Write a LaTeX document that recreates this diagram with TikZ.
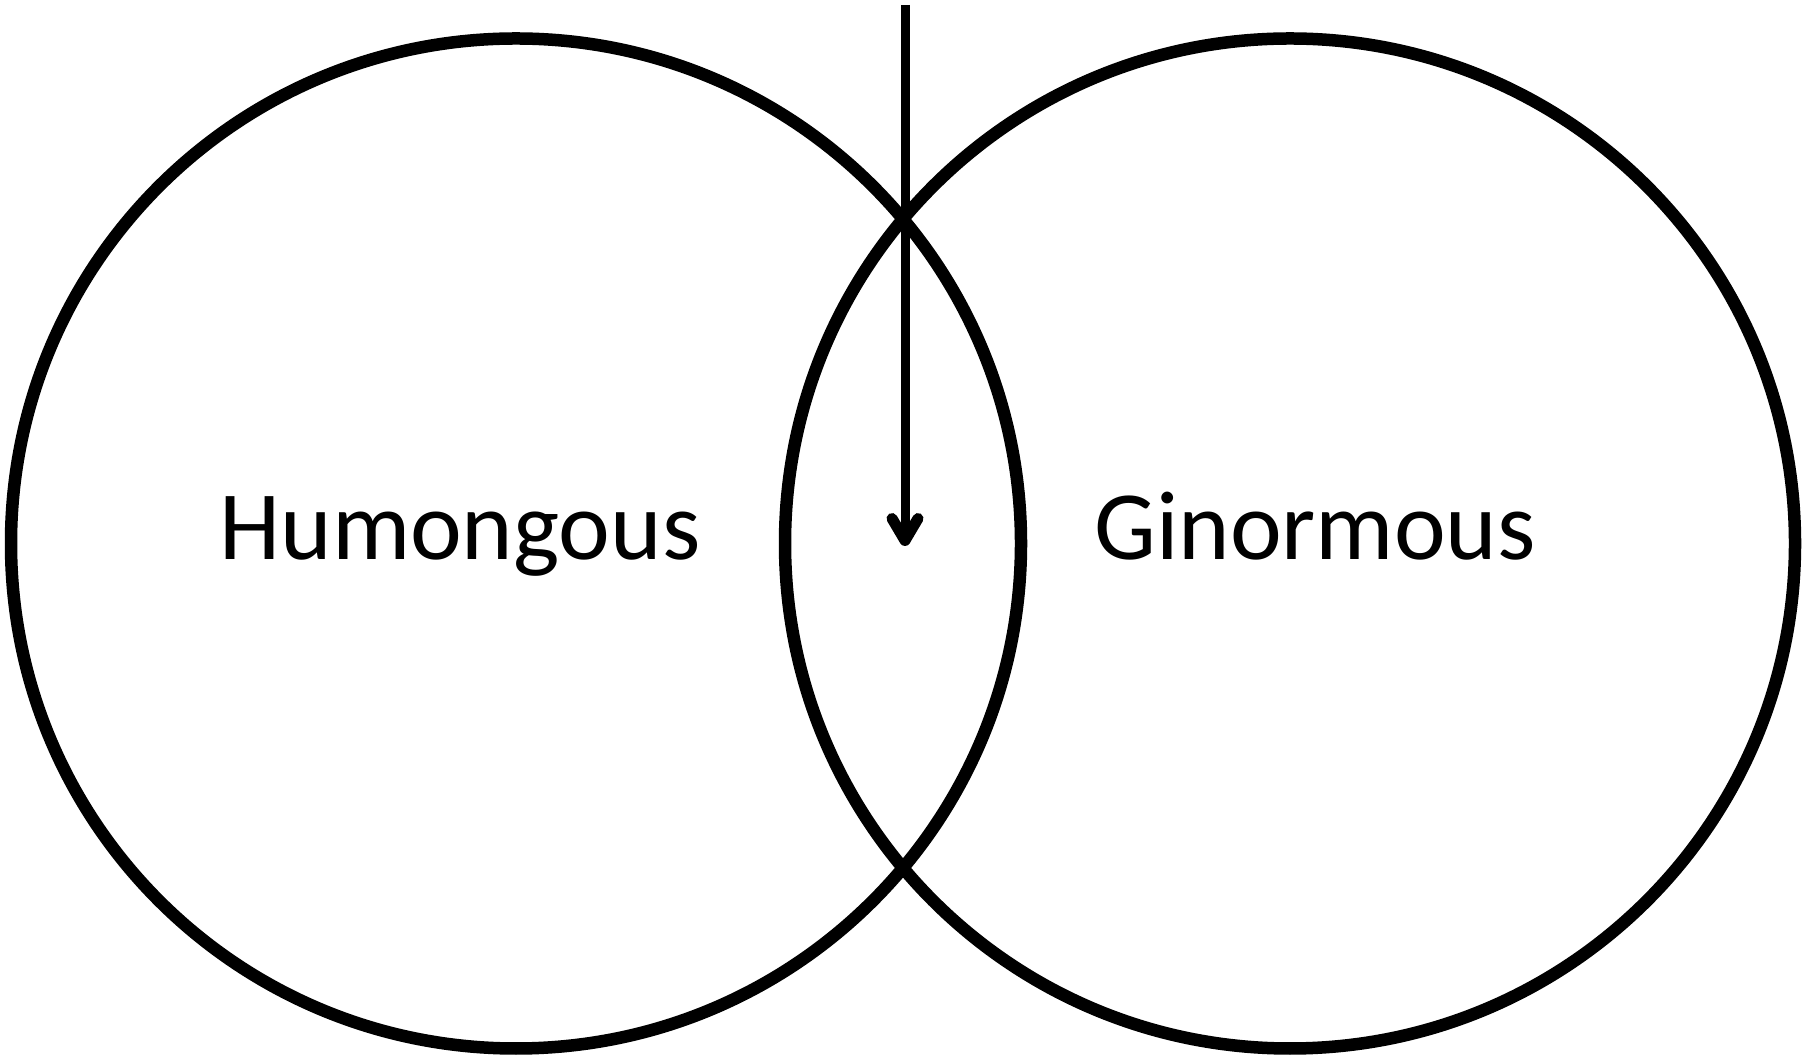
\documentclass[tikz,border=0pt]{standalone}
\usepackage{fontspec}
\setmainfont{Carlito}
\usetikzlibrary{arrows.meta}
\begin{document}
\begin{tikzpicture}[x=1pt,y=1pt,
  ring/.style={draw=black,line width=12.5pt,circle,minimum size=1010pt,inner sep=0pt},
  label/.style={font=\fontsize{98}{110}\selectfont,inner sep=0pt,anchor=base},
  pointer/.style={line width=9pt,-{Straight Barb[length=22pt,width=26pt,line width=11pt 0,round]}}]
\useasboundingbox (0,0) rectangle (1803,1054);
\node[ring] (left) at (516,510.5) {};
\node[ring] (right) at (1290,510.5) {};
\node[label] (hum) at (460,494) {Humongous};
\node[label] (gin) at (1315,494) {Ginormous};
\coordinate (top) at (905,1049);
\coordinate (tip) at (905,508);
\draw[pointer] (top) -- (tip);
\end{tikzpicture}
\end{document}
